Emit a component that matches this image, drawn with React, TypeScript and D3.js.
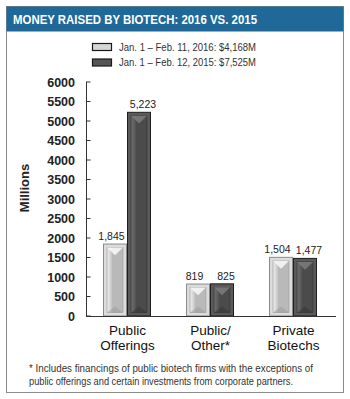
import React from 'react';
import * as d3 from 'd3';

const categories = [['Public', 'Offerings'], ['Public/', 'Other*'], ['Private', 'Biotechs']];
const series2016 = [1845, 819, 1504];
const series2015 = [5223, 825, 1477];
const seriesKeys = ['2016', '2015'];
const legendLabels = ['Jan. 1 –  Feb. 11, 2016: $4,168M', 'Jan. 1 –  Feb. 12, 2015: $7,525M'];
const yTicks = d3.range(0, 6001, 500);
const footnote = [
  '* Includes financings of public biotech firms with the exceptions of',
  'public offerings and certain investments from corporate partners.',
];

const W = 350;
const H = 399;

const styles: Record<string, { edge: string; stroke: string; face: string; light: string; dark: string }> = {
  '2016': { edge: '#dcdcdc', stroke: '#8a8a8a', face: '#b9b9b9', light: '#f6f6f6', dark: '#9a9a9a' },
  '2015': { edge: '#5a5a5a', stroke: '#1e1e1e', face: '#4b4b4b', light: '#7a7a7a', dark: '#333333' },
};

// label nudge so neighbouring value labels don't collide
const labelShift: Record<string, number> = { '2016': -3.5, '2015': 4 };

function BevelBar({ x, y, w, h, k }: { x: number; y: number; w: number; h: number; k: string }) {
  const s = styles[k];
  const i = 3.5;
  const ix = x + i, iy = y + i, iw = w - 2 * i, ih = Math.max(0, h - 2 * i);
  const bev = Math.min(6, ih / 2);
  return (
    <g>
      <rect x={x} y={y} width={w} height={h} fill={s.edge} stroke={s.stroke} strokeWidth={1} />
      <rect x={ix} y={iy} width={iw} height={ih} fill={`url(#face${k})`} stroke={s.dark} strokeWidth={0.6} />
      <path d={`M${ix},${iy} L${ix + iw},${iy} L${ix + iw / 2},${iy + bev * 1.3} Z`} fill={s.light} opacity={0.9} />
      <path d={`M${ix},${iy + ih} L${ix + iw},${iy + ih} L${ix + iw / 2},${iy + ih - bev} Z`} fill={s.dark} opacity={0.5} />
    </g>
  );
}

export default function App() {
  const y = d3.scaleLinear().domain([0, 6000]).range([316, 82]);
  const x = d3.scaleBand<number>().domain(d3.range(categories.length)).range([86, 335]);
  const xs = d3.scaleBand<string>().domain(seriesKeys).range([0, 48]);
  const sans = 'Liberation Sans, Arial, sans-serif';
  const narrow = 'Liberation Sans Narrow, Liberation Sans, Arial, sans-serif';

  return (
    <svg width={W} height={H} style={{ position: 'absolute', left: 0, top: 0, background: '#fff' }}>
      <defs>
        {seriesKeys.map((k) => (
          <linearGradient key={k} id={`face${k}`} x1="0" x2="1" y1="0" y2="0">
            <stop offset="0" stopColor={styles[k].light} stopOpacity={0.6} />
            <stop offset="0.35" stopColor={styles[k].face} />
            <stop offset="1" stopColor={styles[k].face} />
          </linearGradient>
        ))}
      </defs>
      <rect x={6.5} y={6.5} width={337} height={386} fill="#fff" stroke="#8c8c8c" strokeWidth={1} />
      <rect x={6.5} y={6.5} width={337} height={25} fill="#1f6898" />
      <text x={13} y={24} fill="#fff" fontFamily={narrow} fontWeight="bold" fontSize={13.5}
        textLength={244} lengthAdjust="spacingAndGlyphs">MONEY RAISED BY BIOTECH: 2016 VS. 2015</text>

      {seriesKeys.map((k, i) => (
        <g key={k}>
          <rect x={92.5} y={43.5 + i * 15.5} width={19} height={7} fill={k === '2016' ? '#d6d6d6' : '#555'} stroke="#1a1a1a" strokeWidth={1.2} />
          <text x={119} y={50.5 + i * 15.5} fill="#333" fontFamily={narrow} fontSize={11}
            textLength={137} lengthAdjust="spacingAndGlyphs">{legendLabels[i]}</text>
        </g>
      ))}

      <text transform="translate(29,188) rotate(-90)" textAnchor="middle" fontFamily={sans} fontWeight="bold" fontSize={13} fill="#222">Millions</text>

      {yTicks.map((t) => (
        <g key={t}>
          <line x1={86} x2={90.5} y1={y(t)} y2={y(t)} stroke="#333" strokeWidth={1} />
          <text x={75} y={y(t) + 4.5} textAnchor="end" fontFamily={sans} fontWeight="bold" fontSize={12.5} fill="#222">{t}</text>
        </g>
      ))}
      <line x1={86.5} x2={86.5} y1={y(6000)} y2={316.5} stroke="#333" strokeWidth={1} />

      {categories.map((c, i) => {
        const x0 = x(i)! + x.bandwidth() / 2 - 24;
        const vals = [series2016[i], series2015[i]];
        return (
          <g key={i}>
            {seriesKeys.map((k, j) => {
              const bx = x0 + xs(k)!;
              const by = y(vals[j]);
              return (
                <g key={k}>
                  <BevelBar x={bx} y={by} w={23} h={316 - by} k={k} />
                  <text x={bx + 11.5 + labelShift[k]} y={by - 4} textAnchor="middle" fontFamily={sans} fontSize={10.5} fill="#222">{d3.format(',')(vals[j])}</text>
                </g>
              );
            })}
            {c.map((line, li) => (
              <text key={li} x={x(i)! + x.bandwidth() / 2} y={335 + li * 14.5} textAnchor="middle" fontFamily={sans} fontSize={13.5} fill="#111">{line}</text>
            ))}
          </g>
        );
      })}
      <line x1={86} x2={336} y1={316.5} y2={316.5} stroke="#333" strokeWidth={1} />

      {footnote.map((f, i) => (
        <text key={i} x={29} y={372 + i * 12.5} fontFamily={narrow} fontSize={10} fill="#333"
          textLength={i === 0 ? 284 : 264} lengthAdjust="spacingAndGlyphs">{f}</text>
      ))}
    </svg>
  );
}
